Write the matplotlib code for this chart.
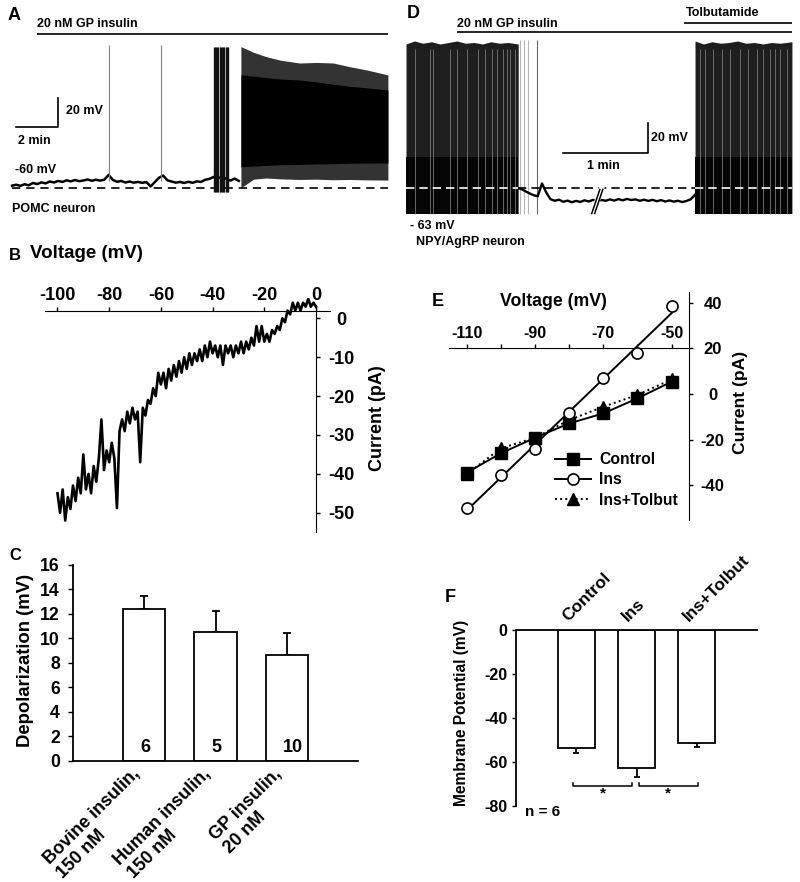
import numpy as np
import matplotlib
matplotlib.use('Agg')
import matplotlib.pyplot as plt
from matplotlib.lines import Line2D

plt.rcParams['font.family'] = ['Liberation Sans', 'DejaVu Sans']
plt.rcParams['font.weight'] = 'bold'
plt.rcParams['axes.labelweight'] = 'bold'
plt.rcParams['axes.unicode_minus'] = False

# ---------------- data ----------------
# A: POMC neuron, membrane potential (mV) sampled every 0.2 min before firing
a_step = 0.2
a_base_mv = [-60.5, -59.8, -60.6, -59.5, -60.2, -58.6, -59.4, -58.2, -58.9, -57.6,
             -58.3, -57.2, -57.9, -56.8, -57.5, -56.6, -57.4, -56.9, -56.2, -57.1,
             -56.4, -57.0, -56.3, -53.0, -56.5, -57.8, -57.2, -58.3, -57.6, -58.4,
             -57.9, -58.5, -58.0, -61.0, -58.0, -55.0, -53.5, -56.8, -57.6, -58.4,
             -57.9, -58.6, -57.8, -58.5, -57.5, -57.9, -56.4, -55.8, -54.5, -55.5,
             -54.2, -55.8, -57.0, -55.6, -57.2]
a_single_spikes = [4.6, 7.1]
a_burst_spikes = [9.62, 9.66, 9.70, 9.74, 9.79, 9.92, 9.96, 10.00, 10.04, 10.09,
                  10.21, 10.25, 10.30]
a_fire_t = [10.9, 11.5, 12.1, 12.8, 13.7, 14.5, 15.3, 16.1, 16.9, 17.9]
a_fire_top = [35.4, 31.5, 28.5, 26.0, 24.1, 24.5, 24.1, 21.5, 19.3, 15.9]
a_core_top = [15.9, 15.0, 14.0, 13.0, 12.4, 11.0, 9.5, 8.0, 7.0, 5.5]
a_core_low = [-47.4, -47.0, -46.5, -46.0, -45.8, -45.5, -45.3, -45.0, -44.9, -44.8]
a_fire_low = [-62.0, -56.0, -55.2, -55.8, -56.2, -56.0, -56.4, -56.2, -56.5, -56.6]

# D: NPY/AgRP neuron (min, mV)
d_f1_t = [0.0, 0.1, 0.2, 0.3, 0.4, 0.5, 0.6, 0.7, 0.8, 0.9, 1.0, 1.1, 1.2, 1.32]
d_f1_top = [33, 35, 33.5, 34.5, 33, 34, 35, 33.5, 34, 33, 34.5, 33.5, 34, 33]
d_f2_t = [3.40, 3.5, 3.6, 3.7, 3.8, 3.9, 4.0, 4.1, 4.2, 4.3, 4.4, 4.54]
d_f2_top = [35, 33, 34.5, 33.5, 34, 35, 33.5, 34, 33, 34, 33.5, 34.5]
d_fire_low = -80
d_gaps1 = [0.11, 0.28, 0.32, 0.52, 0.60, 0.72, 0.85, 0.93, 1.01, 1.07, 1.14, 1.19, 1.22, 1.28]
d_gaps2 = [3.46, 3.52, 3.61, 3.72, 3.81, 3.93, 4.02, 4.13, 4.20, 4.28, 4.34, 4.40, 4.48]
d_late_spikes = [1.34, 1.39, 1.44, 1.54]
d_quiet_t0 = 1.30
d_quiet_step = 0.05
d_quiet_mv = [-63.0, -63.5, -65.0, -66.5, -67.8, -68.5, -60.0, -66.0, -70.5, -71.5,
              -70.8, -72.2, -71.4, -72.5, -71.6, -72.3, -71.2, -72.0, -70.9, -71.8,
              -71.0, -71.5, -70.6, -71.4, -70.4, -71.2, -70.3, -71.0, -70.6, -71.5,
              -70.8, -71.6, -70.9, -71.8, -71.1, -72.0, -71.3, -72.1, -71.5, -72.4,
              -71.6, -70.5, -67.5, -63.5]
d_rest = -63

# B: ramp I-V (voltage -100..0 mV in 1 mV steps, current pA)
b_current = [-45, -50, -44, -52, -46, -49, -43, -47, -41, -45,
             -35, -44, -40, -45, -38, -42, -36, -26, -39, -34,
             -37, -32, -36, -48.8, -29, -26, -29, -24, -27, -23,
             -26, -24, -37, -23, -25, -21, -22, -18, -20, -14,
             -17, -14, -18, -13, -16, -12, -15, -11, -14, -10,
             -13, -9, -12, -9, -11, -8, -11, -7, -10, -6,
             -9, -7, -10, -7, -12, -7, -9, -7, -10, -7,
             -9, -6, -9, -6, -8, -5, -7, -2, -6, -2,
             -6, -4, -6, -3, -4, -2, -3, 0, -1, 2,
             1, 4, 2, 4, 2, 4, 3, 5, 3, 4, 3]

# E: I-V relations
e_volt = [-110, -100, -90, -80, -70, -60, -50]
e_control = [-34.5, -26.0, -19.2, -12.9, -8.5, -1.9, 5.4]
e_ins = [-49.9, -35.5, -24.3, -8.5, 7.2, 17.8, 38.7]
e_tolbut = [-35.2, -23.8, -19.2, -11.4, -5.6, -0.4, 6.4]

# C: depolarization
c_labels = ['Bovine insulin,\n150 nM', 'Human insulin,\n150 nM', 'GP insulin,\n20 nM']
c_values = [12.4, 10.5, 8.6]
c_errors = [1.07, 1.7, 1.8]
c_n = ['6', '5', '10']

# F: membrane potential
f_labels = ['Control', 'Ins', 'Ins+Tolbut']
f_values = [-53.8, -62.9, -51.2]
f_errors = [2.3, 3.8, 2.1]

# ---------------- figure ----------------
W, H = 800, 882
fig = plt.figure(figsize=(8, 8.82), dpi=100)


def rect(left, top, right, bottom):
    return [left / W, 1 - bottom / H, (right - left) / W, (bottom - top) / H]


def ftext(x, y, s, **kw):
    kw.setdefault('va', 'center')
    fig.text(x / W, 1 - y / H, s, **kw)


# ---- Panel A ----
axA = fig.add_axes(rect(0, 5, 400, 215))
axA.set_xlim(-0.571, 18.476)
axA.set_ylim(-80.7, 64.1)
axA.axis('off')
a_t = np.arange(len(a_base_mv)) * a_step
axA.hlines(-62.4, 0, 17.9, colors='k', linestyles=(0, (5, 3.5)), lw=1.2)
axA.plot(a_t, a_base_mv, color='k', lw=1.8)
axA.vlines(a_single_spikes, -57, 36.5, colors='#808080', lw=0.8)
axA.vlines(a_burst_spikes, -64.5, 35, colors='#111111', lw=1.0)
axA.fill_between(a_fire_t, a_fire_low, a_fire_top, color='#333333', lw=0)
axA.fill_between(a_fire_t, a_core_low, a_core_top, color='k', lw=0)
axA.hlines(44.1, 1.19, 17.9, colors='k', lw=1.2)
axA.plot([0.21, 2.21, 2.21], [-20, -20, 0], color='k', lw=1.2)

ftext(8, 16, 'A', fontsize=13)
ftext(37, 24, '20 nM GP insulin', fontsize=9)
ftext(66, 111, '20 mV', fontsize=9)
ftext(18, 141, '2 min', fontsize=9)
ftext(15, 170, '-60 mV', fontsize=9)
ftext(12, 209, 'POMC neuron', fontsize=9)

# ---- Panel D ----
axD = fig.add_axes(rect(400, 5, 800, 215))
axD.set_xlim(-0.0706, 4.635)
axD.set_ylim(-81, 59)
axD.axis('off')
for ft, ftop, gaps in [(d_f1_t, d_f1_top, d_gaps1), (d_f2_t, d_f2_top, d_gaps2)]:
    axD.fill_between(ft, d_fire_low, ftop, color='#1e1e1e', lw=0)
    axD.fill_between(ft, d_fire_low, -42, color='#050505', lw=0)
    axD.vlines(gaps, d_fire_low, 30, colors='#808080', lw=0.7, alpha=0.8)
axD.vlines(d_late_spikes[:3], d_fire_low, 35.5, colors='#b5b5b5', lw=0.8)
axD.vlines(d_late_spikes[3:], d_fire_low, 35.5, colors='#666666', lw=0.8)
d_qt = d_quiet_t0 + np.arange(len(d_quiet_mv)) * d_quiet_step
axD.plot(d_qt, d_quiet_mv, color='k', lw=1.7)
axD.hlines(d_rest, d_f1_t[-1], d_f2_t[0], colors='k', linestyles=(0, (5, 3)), lw=1.2)
axD.hlines(d_rest, 0, d_f1_t[-1], colors='white', linestyles=(0, (5, 3)), lw=1.2)
axD.hlines(d_rest, d_f2_t[0], d_f2_t[-1], colors='white', linestyles=(0, (5, 3)), lw=1.2)
# break marks
axD.plot([2.30, 2.20], [-63, -80], color='white', lw=4)
axD.plot([2.28, 2.185], [-64, -80], color='k', lw=1.1)
axD.plot([2.315, 2.22], [-64, -80], color='k', lw=1.1)
axD.hlines(41, 0.6, 4.54, colors='k', lw=1.2)
axD.hlines(47, 3.27, 4.54, colors='k', lw=1.2)
axD.plot([1.847, 2.847, 2.847], [-39.7, -39.7, -19.7], color='k', lw=1.2)

ftext(407, 14, 'D', fontsize=13)
ftext(457, 24, '20 nM GP insulin', fontsize=9)
ftext(686, 13, 'Tolbutamide', fontsize=9)
ftext(651, 138, '20 mV', fontsize=9)
ftext(587, 166, '1 min', fontsize=9)
ftext(410, 226, '- 63 mV', fontsize=9)
ftext(416, 242, 'NPY/AgRP neuron', fontsize=9)

# ---- Panel B ----
axB = fig.add_axes(rect(45, 298, 330, 532))
b_volt = np.arange(-100, 1)
axB.plot(b_volt, b_current, color='k', lw=1.9)
axB.set_xlim(-104.83, 5.42)
axB.set_ylim(-54.94, 5.22)
for s in ['left', 'bottom']:
    axB.spines[s].set_visible(False)
axB.spines['top'].set_position(('data', 1.8))
axB.spines['right'].set_position(('data', 0))
axB.spines['right'].set_bounds(-54.94, 3.4)
axB.xaxis.set_ticks_position('top')
axB.yaxis.set_ticks_position('right')
axB.set_xticks([-100, -80, -60, -40, -20, 0])
axB.set_xticklabels(['-100', '-80', '-60', '-40', '-20', '0'])
axB.set_yticks([0, -10, -20, -30, -40, -50])
axB.set_yticklabels(['0', '-10', '-20', '-30', '-40', '-50'])
axB.tick_params(axis='x', length=3, width=1, labelsize=13, pad=2)
axB.tick_params(axis='y', length=3, width=1, labelsize=13, pad=15)
plt.setp(axB.get_yticklabels(), ha='center')
axB.patch.set_visible(False)
ftext(9, 255, 'B', fontsize=12)
ftext(30, 253, 'Voltage (mV)', fontsize=13.5)
ftext(378, 418, 'Current (pA)', fontsize=13, rotation=90, ha='center')

# ---- Panel E ----
axE = fig.add_axes(rect(449, 292, 689, 520))
axE.set_xlim(-115.18, -44.92)
axE.set_ylim(-55.26, 44.74)
fit = np.polyfit(e_volt, e_ins, 1)
axE.plot(e_volt, e_control, color='k', lw=1.4, marker='s', ms=8.5, mfc='k', mec='k',
         label='Control', zorder=3)
axE.plot([e_volt[0], e_volt[-1]], np.polyval(fit, [e_volt[0], e_volt[-1]]), color='k',
         lw=1.4, zorder=2)
axE.plot(e_volt, e_ins, ls='none', marker='o', ms=8, mfc='white', mec='k', mew=1.2,
         zorder=4)
axE.plot(e_volt, e_tolbut, color='k', lw=1.4, ls=':', marker='^', ms=8.5, mfc='k',
         mec='k', zorder=3)
handles = [Line2D([], [], color='k', lw=1.4, marker='s', ms=8.5),
           Line2D([], [], color='k', lw=1.4, marker='o', ms=8, mfc='white', mew=1.2),
           Line2D([], [], color='k', lw=1.4, ls=':', marker='^', ms=8.5)]
axE.legend(handles, ['Control', 'Ins', 'Ins+Tolbut'], loc='upper left',
           bbox_to_anchor=(555 / W, 1 - 452 / H), bbox_transform=fig.transFigure,
           frameon=False, fontsize=11.3, handlelength=2.3, handletextpad=0.5,
           labelspacing=0.35, borderpad=0, borderaxespad=0)
for s in ['left', 'bottom']:
    axE.spines[s].set_visible(False)
axE.spines['top'].set_position(('data', 20))
axE.xaxis.set_ticks_position('top')
axE.yaxis.set_ticks_position('right')
axE.set_xticks(e_volt)
axE.set_xticklabels(['-110', '', '-90', '', '-70', '', '-50'])
axE.set_yticks([40, 20, 0, -20, -40])
axE.set_yticklabels(['40', '20', '0', '-20', '-40'])
axE.tick_params(axis='x', length=3, width=1, labelsize=11.5, pad=2)
axE.tick_params(axis='y', length=3, width=1, labelsize=12, pad=14)
plt.setp(axE.get_yticklabels(), ha='center')
axE.patch.set_visible(False)
ftext(432, 301, 'E', fontsize=13)
ftext(553, 302, 'Voltage (mV)', fontsize=12.7, ha='center')
ftext(740, 402, 'Current (pA)', fontsize=12.6, rotation=90, ha='center')

# ---- Panel C ----
axC = fig.add_axes(rect(73, 564.5, 358, 760.7))
cx = np.arange(1, len(c_values) + 1)
axC.bar(cx, c_values, width=0.59, color='white', edgecolor='k', lw=1.3, zorder=2)
axC.errorbar(cx, c_values, yerr=[np.zeros(len(c_errors)), c_errors], fmt='none',
             ecolor='k', elinewidth=1.3, capsize=3, capthick=1.3, zorder=1)
axC.set_xlim(0, 4)
axC.set_ylim(0, 16)
axC.spines['top'].set_visible(False)
axC.spines['right'].set_visible(False)
axC.spines['left'].set_linewidth(1.3)
axC.spines['bottom'].set_linewidth(1.3)
axC.set_xticks([])
axC.set_yticks(np.arange(0, 17, 2))
axC.set_yticklabels([str(v) for v in range(0, 17, 2)])
axC.tick_params(axis='y', length=3.5, width=1, labelsize=12.7, pad=6)
for x, n in zip(cx, c_n):
    axC.text(x - 0.05, 1.05, n, fontsize=13, ha='left', va='center')
for x, lab in zip(cx, c_labels):
    axC.text(x - 0.19, -0.35, lab, fontsize=13, rotation=45, ha='right', va='top',
             rotation_mode='anchor', multialignment='left', clip_on=False)
ftext(9, 555, 'C', fontsize=12)
ftext(26, 660, 'Depolarization (mV)', fontsize=13.3, rotation=90, ha='center')

# ---- Panel F ----
axF = fig.add_axes(rect(516, 630, 757, 806))
fx = np.arange(1, len(f_values) + 1)
axF.bar(fx, f_values, width=0.61, color='white', edgecolor='k', lw=1.3, zorder=2)
axF.errorbar(fx, f_values, yerr=[f_errors, np.zeros(len(f_errors))], fmt='none',
             ecolor='k', elinewidth=1.3, capsize=2, capthick=1.3, zorder=1)
axF.set_xlim(0, 4)
axF.set_ylim(-80, 0)
axF.spines['bottom'].set_visible(False)
axF.spines['right'].set_visible(False)
axF.spines['left'].set_linewidth(1.3)
axF.spines['top'].set_linewidth(1.3)
axF.set_xticks([])
axF.set_yticks([0, -20, -40, -60, -80])
axF.set_yticklabels(['0', '-20', '-40', '-60', '-80'])
axF.tick_params(axis='y', length=3, width=1, labelsize=11.5, pad=3)
for x, lab in zip(fx, f_labels):
    axF.text(x - 0.1, 2.7, lab, fontsize=12.4, rotation=45, ha='left', va='bottom',
             rotation_mode='anchor', clip_on=False)
for x0, x1 in [(0.95, 1.93), (2.04, 3.02)]:
    axF.plot([x0, x0, x1, x1], [-69.5, -71, -71, -69.5], color='k', lw=1.1, clip_on=False)
    axF.text((x0 + x1) / 2, -74.5, '*', fontsize=11, ha='center', va='center')
ftext(445, 597, 'F', fontsize=13)
ftext(461, 713, 'Membrane Potential (mV)', fontsize=11.2, rotation=90, ha='center')
ftext(525, 812, 'n = 6', fontsize=11)

fig.savefig('out.png', dpi=100)
